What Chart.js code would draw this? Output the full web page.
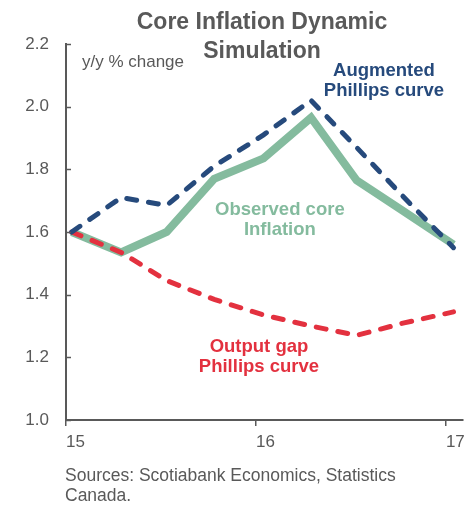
<!DOCTYPE html>
<html>
<head>
<meta charset="utf-8">
<script src="https://cdn.jsdelivr.net/npm/chart.js@4/dist/chart.umd.min.js"></script>
<style>
  html, body { margin: 0; padding: 0; background: #fff; }
  #wrap { width: 473px; height: 506px; position: relative; }
</style>
</head>
<body>
<div id="wrap"><canvas id="chart" width="473" height="506"></canvas></div>
<script>
// Data (x in years: 15 = 2015)
const xPos = [15.03, 15.29, 15.53, 15.78, 16.04, 16.29, 16.53, 16.78, 17.04];
const observedCore = [1.60, 1.535, 1.60, 1.77, 1.835, 1.965, 1.765, 1.665, 1.56];
const augmentedPC = [1.60, 1.71, 1.685, 1.81, 1.91, 2.02, 1.87, 1.71, 1.55];
const outputGapPC = [1.60, 1.535, 1.445, 1.385, 1.335, 1.30, 1.27, 1.31, 1.345];
const xTicks = [15, 16, 17];
const yTicks = [1.0, 1.2, 1.4, 1.6, 1.8, 2.0, 2.2];

const GRAY = '#595959';
const BLUE = '#264a7c';
const GREEN = '#84bb9e';
const RED = '#e3313f';
const FONT = '"Liberation Sans", Arial, sans-serif';

const toPoints = vals => vals.map((v, i) => ({ x: xPos[i], y: v }));

// series labels, anchored in data coordinates
const notes = [
    { lines: ['Augmented', 'Phillips curve'], x: 16.674, y: 2.098, color: BLUE, align: 'center', bold: true },
    { lines: ['Observed core', 'Inflation'], x: 16.126, y: 1.654, color: GREEN, align: 'center', bold: true },
    { lines: ['Output gap', 'Phillips curve'], x: 16.016, y: 1.217, color: RED, align: 'center', bold: true },
    { lines: ['y/y % change'], x: 15.084, y: 2.127, color: GRAY, align: 'left', bold: false }
];

const annotate = {
    id: 'annotate',
    afterDraw(chart) {
        const { ctx, scales: { x, y }, chartArea } = chart;
        ctx.save();

        // inward y ticks
        ctx.strokeStyle = GRAY;
        ctx.lineWidth = 1.5;
        yTicks.forEach(v => {
            const py = Math.round(y.getPixelForValue(v)) + 0.5;
            ctx.beginPath();
            ctx.moveTo(chartArea.left, py);
            ctx.lineTo(chartArea.left + 5, py);
            ctx.stroke();
        });

        ctx.textBaseline = 'alphabetic';
        notes.forEach(n => {
            ctx.fillStyle = n.color;
            ctx.textAlign = n.align;
            ctx.font = (n.bold ? 'bold 18.5px ' : '17px ') + FONT;
            const px = x.getPixelForValue(n.x);
            const py = y.getPixelForValue(n.y);
            n.lines.forEach((t, i) => ctx.fillText(t, px, py + i * 20));
        });

        // title
        ctx.fillStyle = GRAY;
        ctx.textAlign = 'center';
        ctx.font = 'bold 23px ' + FONT;
        ctx.fillText('Core Inflation Dynamic', 262, 29);
        ctx.fillText('Simulation', 262, 58);

        // source note
        ctx.textAlign = 'left';
        ctx.font = '17.5px ' + FONT;
        ctx.fillText('Sources: Scotiabank Economics, Statistics', 65, 481);
        ctx.fillText('Canada.', 65, 501);
        ctx.restore();
    }
};

new Chart(document.getElementById('chart'), {
    type: 'line',
    data: {
        datasets: [
            {
                label: 'Augmented Phillips curve',
                data: toPoints(augmentedPC),
                borderColor: BLUE,
                borderWidth: 5,
                borderDash: [10, 12],
                borderCapStyle: 'round',
                order: 1
            },
            {
                label: 'Output gap Phillips curve',
                data: toPoints(outputGapPC),
                borderColor: RED,
                borderWidth: 5,
                borderDash: [10, 12],
                borderCapStyle: 'round',
                order: 2
            },
            {
                label: 'Observed core Inflation',
                data: toPoints(observedCore),
                borderColor: GREEN,
                borderWidth: 8,
                order: 3
            }
        ]
    },
    options: {
        responsive: false,
        animation: false,
        layout: { padding: { top: 44, right: 10, left: 0, bottom: 0 } },
        elements: { point: { radius: 0 }, line: { tension: 0, borderJoinStyle: 'miter' } },
        plugins: {
            legend: { display: false },
            tooltip: { enabled: false },
            title: { display: false }
        },
        scales: {
            x: {
                type: 'linear',
                min: 15,
                max: 17.09,
                afterBuildTicks: s => { s.ticks = xTicks.map(v => ({ value: v })); },
                afterFit: s => { s.height = 86; },
                grid: { drawOnChartArea: false, tickLength: 6, color: GRAY, lineWidth: 1.5 },
                border: { display: true, color: GRAY, width: 2 },
                ticks: {
                    align: 'start',
                    padding: 6,
                    color: GRAY,
                    font: { family: FONT, size: 17 },
                    callback: v => String(v)
                }
            },
            y: {
                min: 1.0,
                max: 2.2,
                afterBuildTicks: s => { s.ticks = yTicks.map(v => ({ value: v })); },
                afterFit: s => { s.width = 66; },
                grid: { display: false },
                border: { display: true, color: GRAY, width: 2 },
                ticks: {
                    padding: 9,
                    color: GRAY,
                    font: { family: FONT, size: 17 },
                    callback: v => v.toFixed(1)
                }
            }
        }
    },
    plugins: [annotate]
});
</script>
</body>
</html>
